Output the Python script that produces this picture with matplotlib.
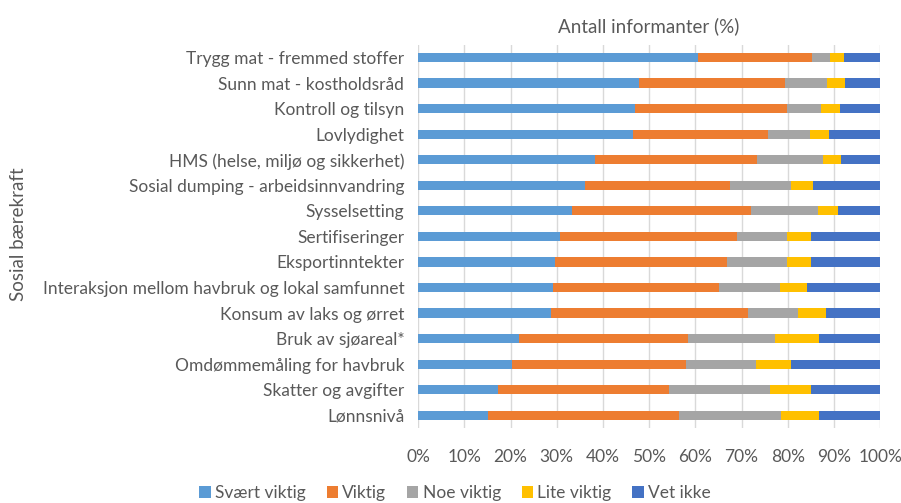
import matplotlib.pyplot as plt
import numpy as np

categories = ["Trygg mat - fremmed stoffer", "Sunn mat - kostholdsråd", "Kontroll og tilsyn",
              "Lovlydighet", "HMS (helse, miljø og sikkerhet)", "Sosial dumping - arbeidsinnvandring",
              "Sysselsetting", "Sertifiseringer", "Eksportinntekter",
              "Interaksjon mellom havbruk og lokal samfunnet", "Konsum av laks og ørret",
              "Bruk av sjøareal*", "Omdømmemåling for havbruk", "Skatter og avgifter", "Lønnsnivå"]

svaert_viktig = [60.5, 47.7, 47.0, 46.4, 38.3, 36.2, 33.2, 30.8, 29.7, 29.2, 28.8, 21.9, 20.4, 17.4, 15.2]
viktig =        [24.8, 31.6, 32.9, 29.3, 35.1, 31.3, 38.9, 38.3, 37.2, 35.9, 42.5, 36.4, 37.6, 36.8, 41.3]
noe_viktig =    [3.8, 9.1, 7.3, 9.1, 14.1, 13.2, 14.4, 10.8, 13.0, 13.1, 11.0, 19.0, 15.2, 22.0, 22.1]
lite_viktig =   [3.0, 4.0, 4.0, 4.2, 3.9, 4.8, 4.3, 5.2, 5.2, 6.0, 6.0, 9.5, 7.4, 8.9, 8.2]
vet_ikke =      [7.9, 7.6, 8.8, 11.0, 8.6, 14.5, 9.2, 14.9, 14.9, 15.8, 11.7, 13.2, 19.4, 14.9, 13.2]

series = [("Svært viktig", svaert_viktig, "#5B9BD5"),
          ("Viktig", viktig, "#ED7D31"),
          ("Noe viktig", noe_viktig, "#A5A5A5"),
          ("Lite viktig", lite_viktig, "#FFC000"),
          ("Vet ikke", vet_ikke, "#4472C4")]

plt.rcParams['font.family'] = ['Lato', 'DejaVu Sans']
txt = "#595959"

fig = plt.figure(figsize=(9.01, 5.03), dpi=100)
ax = fig.add_axes([0.464, 0.149, 0.513, 0.762])

y = np.arange(len(categories))
left = np.zeros(len(categories))
for name, vals, col in series:
    vals = np.array(vals)
    ax.barh(y, vals, left=left, height=0.36, color=col, label=name, zorder=3)
    left += vals

ax.set_ylim(len(categories) - 0.5, -0.5)
ax.set_xlim(0, 100)
ax.set_xticks(np.arange(0, 101, 10))
ax.set_xticklabels([f"{v}%" for v in range(0, 101, 10)], fontsize=12.5, color=txt)
ax.set_yticks(y)
ax.set_yticklabels(categories, fontsize=12.5, color=txt)
ax.tick_params(axis='x', length=0, pad=15)
ax.tick_params(axis='y', length=0, pad=10)
ax.grid(axis='x', color="#D9D9D9", linewidth=1, zorder=0)
for s in ax.spines.values():
    s.set_visible(False)

ax.set_xlabel("Antall informanter (%)", fontsize=13.5, color=txt, labelpad=9)
ax.xaxis.set_label_position('top')
fig.text(0.02, 0.535, "Sosial bærekraft", rotation=90, fontsize=13.5, color=txt,
         ha='center', va='center')

ax.legend(loc='center', bbox_to_anchor=(0.08, -0.17), ncol=5, frameon=False,
          fontsize=12.5, labelcolor=txt, handlelength=0.65, handleheight=0.65,
          handletextpad=0.25, columnspacing=1.2)

fig.savefig("out.png", dpi=100)
